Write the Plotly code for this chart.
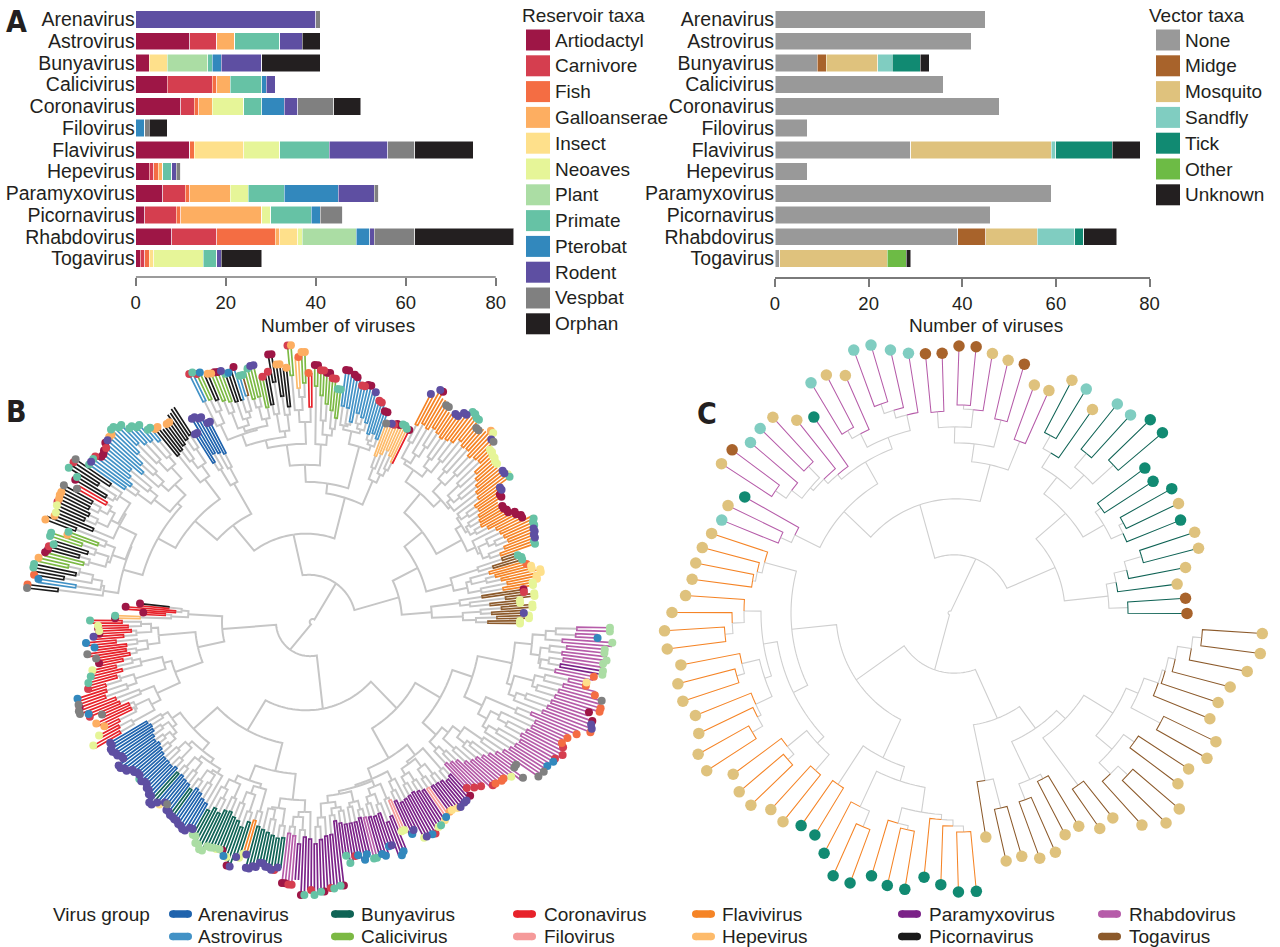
import math
import plotly.graph_objects as go

W, H = 1280, 947
INK = "#231f20"
SANS = "Liberation Sans"

# ---------- bar data ----------
viruses = ["Arenavirus", "Astrovirus", "Bunyavirus", "Calicivirus", "Coronavirus", "Filovirus",
           "Flavivirus", "Hepevirus", "Paramyxovirus", "Picornavirus", "Rhabdovirus", "Togavirus"]
artiodactyl = [0, 12, 3, 7, 10, 0, 12, 3, 6, 2, 8, 1]
carnivore = [0, 6, 0, 10, 3, 0, 0, 1, 5, 7, 10, 1]
fish = [0, 0, 0, 1, 1, 0, 1, 1, 1, 1, 13, 1]
galloanserae = [0, 4, 0, 3, 3, 0, 0, 1, 9, 18, 1, 0]
insect = [0, 0, 4, 0, 0, 0, 11, 0, 0, 0, 4, 1]
neoaves = [0, 0, 0, 0, 7, 0, 8, 0, 4, 2, 1, 11]
plant = [0, 0, 9, 0, 0, 0, 0, 0, 0, 0, 12, 0]
primate = [0, 10, 1, 7, 4, 0, 11, 2, 8, 9, 0, 3]
pterobat = [0, 0, 2, 1, 5, 2, 0, 0, 12, 2, 3, 0]
rodent = [40, 5, 9, 2, 3, 0, 13, 1, 8, 0, 1, 1]
vespbat = [1, 0, 0, 0, 8, 1, 6, 1, 1, 5, 9, 0]
orphan = [0, 4, 13, 0, 6, 4, 13, 0, 0, 0, 22, 9]

none_v = [45, 42, 9, 36, 48, 7, 29, 7, 59, 46, 39, 1]
midge = [0, 0, 2, 0, 0, 0, 0, 0, 0, 0, 6, 0]
mosquito = [0, 0, 11, 0, 0, 0, 30, 0, 0, 0, 11, 23]
sandfly = [0, 0, 3, 0, 0, 0, 1, 0, 0, 0, 8, 0]
tick = [0, 0, 6, 0, 0, 0, 12, 0, 0, 0, 2, 0]
other = [0, 0, 0, 0, 0, 0, 0, 0, 0, 0, 0, 4]
unknown = [0, 0, 2, 0, 0, 0, 6, 0, 0, 0, 7, 1]

reservoir_series = [("Artiodactyl", artiodactyl, "#9e1646"), ("Carnivore", carnivore, "#d53e4f"),
                    ("Fish", fish, "#f46d43"), ("Galloanserae", galloanserae, "#fdae61"),
                    ("Insect", insect, "#fee08b"), ("Neoaves", neoaves, "#e6f598"),
                    ("Plant", plant, "#abdda4"), ("Primate", primate, "#66c2a5"),
                    ("Pterobat", pterobat, "#3288bd"), ("Rodent", rodent, "#5e4fa2"),
                    ("Vespbat", vespbat, "#808080"), ("Orphan", orphan, INK)]
vector_series = [("None", none_v, "#999999"), ("Midge", midge, "#a8632b"), ("Mosquito", mosquito, "#dfc27d"),
                 ("Sandfly", sandfly, "#80cdc1"), ("Tick", tick, "#118a72"), ("Other", other, "#6dbb45"),
                 ("Unknown", unknown, INK)]
group_names = [("Arenavirus", "A", "#1f63ad"), ("Astrovirus", "S", "#4292c6"), ("Bunyavirus", "B", "#0f6355"),
               ("Calicivirus", "K", "#7cb944"), ("Coronavirus", "C", "#e7222a"), ("Filovirus", "L", "#f59a9a"),
               ("Flavivirus", "F", "#f58426"), ("Hepevirus", "H", "#fdbb6b"), ("Paramyxovirus", "P", "#7b2288"),
               ("Picornavirus", "N", "#1a1a1a"), ("Rhabdovirus", "R", "#b65ca9"), ("Togavirus", "T", "#8c5a2b")]
GROUP_COLOR = {c: col for _, c, col in group_names}
RES_COLOR = dict(zip("acfginpmbrvo", [s[2] for s in reservoir_series]))
VEC_COLOR = {"M": "#a8632b", "Q": "#dfc27d", "S": "#80cdc1", "T": "#118a72"}

# ---------- tree C: one entry per tip, counter-clockwise; merge = radius where neighbours join ----------
c_tip_r = [231, 230, 223, 234, 251, 252, 243, 248, 249, 237, 238, 274, 274, 264, 264, 245, 259, 260,
           241, 241, 258, 258, 262, 267, 267, 260, 261, 264, 271, 281, 282, 262, 271, 272, 242, 250, 268, 269, 267, 277, 278, 241, 252, 252,
           257, 262, 265, 266, 271, 284, 292, 291, 280, 287, 287, 280, 284, 294, 295, 275, 281, 281, 270, 271,
           263, 263, 274, 290, 290, 276, 281, 281, 266, 272, 279, 279,
           226, 253, 252, 259, 259, 247, 246, 259, 258, 282, 297, 297, 280, 280, 290, 290, 275, 277, 284, 297, 307, 307]
c_merge = [172, 153, 163, 176, 194, 109, 185, 190, 172, 179, 148, 216, 188, 206, 169, 186, 201, 58,
           183, 152, 198, 170, 204, 208, 186, 202, 114, 204, 212, 222, 188, 203, 212, 176, 182, 188, 208, 192, 205, 218, 151, 179, 191, 2,
           198, 203, 206, 165, 212, 224, 232, 195, 220, 228, 202, 220, 224, 236, 181, 215, 223, 190, 211, 120,
           208, 162, 216, 233, 177, 218, 222, 202, 207, 213, 219, 60,
           170, 200, 113, 199, 182, 187, 140, 211, 152, 223, 236, 207, 220, 186, 232, 199, 214, 217, 224, 238, 247]
c_groups = "B" * 18 + "R" * 26 + "F" * 32 + "T" * 22
c_vectors = "MMQQQQTQTTTTTSSQSQ" + "QQMQQMMMMSSSSQQSTQQSSMQTQS" + "Q" * 20 + "T" * 12 + "Q" * 22

# ---------- tree B: one entry per cherry, one inner list per clade run, counter-clockwise ----------
b_out = [[214, 223, 218, 227, 215, 230, 220],
         [230, 235, 240, 232, 228],
         [225, 222],
         [242, 244, 246, 248, 250, 240, 236, 230, 228, 226, 232, 236, 250, 248, 246, 248, 250, 252, 260, 266, 262, 258, 266, 268, 262, 256, 254, 258, 262, 268, 260],
         [218, 220, 218, 216, 214],
         [225, 232, 233, 240, 245, 243, 250, 252, 255],
         [235, 245, 250, 252, 257],
         [249, 270, 265, 277, 255, 259, 270, 253, 249, 262, 260, 255, 265, 261, 265, 266, 267, 271, 274],
         [222, 230, 233, 218],
         [252, 249, 242, 240, 245],
         [249, 258, 262, 270, 274, 270, 269, 265, 263, 268, 268],
         [282, 283, 271, 265, 278, 277, 276, 275, 273, 280, 254, 270, 264, 268, 270, 275, 278, 276, 271, 281],
         [167, 181, 163, 191, 216, 208, 207, 213, 221, 213, 221, 213, 211, 219, 222, 226, 228, 241, 242, 244, 236, 224, 233, 227, 236, 246],
         [230, 233, 231, 228, 236, 233, 228, 226, 229, 227, 230, 233, 239, 234, 229, 234, 236, 237, 239, 241, 236],
         [241, 247, 251, 245, 244, 243, 248, 256, 245, 240, 253, 250, 245, 248, 250, 247],
         [262, 263, 258, 273, 268, 273, 270, 267, 268, 266, 237, 245, 239, 245, 240, 246, 244, 247, 239, 252, 249, 230, 237, 234, 246, 247, 248, 244, 242, 240, 238, 240, 241, 240, 239],
         [231, 236, 240, 248, 249, 252, 257, 267, 254, 279, 281, 281, 284, 289, 286, 283, 286, 293, 305, 303, 297, 307, 306, 298, 287, 293, 301, 300, 303, 300, 307, 292, 304]]
b_hinge = [[182, 191, 186, 196, 185, 201, 178],
           [200, 205, 200, 195, 190],
           [195, 206],
           [206, 212, 218, 216, 214, 212, 205, 200, 201, 203, 206, 205, 212, 214, 218, 222, 226, 236, 235, 232, 236, 235, 238, 232, 230, 228, 230, 232, 228, 230, 226],
           [181, 186, 190, 184, 180],
           [196, 200, 198, 208, 212, 215, 205, 218, 219],
           [206, 213, 219, 227, 236],
           [215, 239, 234, 247, 216, 227, 242, 220, 218, 230, 229, 234, 231, 231, 233, 236, 239, 242, 243],
           [187, 190, 192, 184],
           [220, 218, 215, 212, 210],
           [233, 238, 240, 245, 238, 228, 221, 232, 228, 222, 225],
           [239, 249, 236, 232, 245, 245, 242, 244, 232, 248, 222, 237, 229, 236, 230, 244, 235, 246, 233, 250],
           [138, 131, 141, 166, 184, 178, 175, 183, 191, 181, 182, 179, 187, 195, 190, 197, 210, 211, 214, 205, 203, 195, 195, 211, 214, 216],
           [188, 186, 187, 190, 192, 190, 192, 194, 196, 196, 197, 195, 198, 197, 199, 200, 203, 199, 201, 205, 207],
           [212, 207, 210, 205, 204, 208, 210, 215, 208, 205, 210, 212, 214, 216, 218, 217],
           [212, 214, 222, 215, 217, 222, 218, 215, 214, 201, 204, 206, 206, 206, 203, 204, 205, 206, 205, 216, 212, 197, 200, 204, 203, 202, 201, 203, 205, 206, 207, 208, 209, 212, 210],
           [199, 202, 205, 212, 216, 218, 222, 226, 231, 236, 240, 243, 245, 243, 246, 249, 250, 243, 253, 256, 258, 260, 262, 265, 269, 254, 258, 260, 258, 262, 257, 270, 271]]
b_join = [[170, 157, 175, 126, 165, 155, 96],
          [178, 165, 185, 170, 151],
          [180, 124],
          [195, 188, 205, 198, 185, 176, 192, 186, 190, 183, 194, 186, 147, 185, 198, 190, 205, 182, 210, 195, 205, 172, 210, 195, 205, 186, 212, 200, 190, 208, 47],
          [172, 165, 156, 168, 130],
          [188, 192, 183, 200, 205, 196, 208, 200, 140],
          [195, 188, 202, 178, 157],
          [200, 225, 212, 178, 208, 192, 210, 186, 207, 220, 200, 218, 212, 205, 222, 198, 228, 215, 88],
          [172, 156, 175, 121],
          [205, 188, 198, 175, 150],
          [215, 205, 218, 190, 212, 200, 175, 205, 195, 212, 170],
          [225, 228, 212, 226, 235, 220, 232, 210, 191, 215, 205, 222, 208, 225, 190, 232, 218, 208, 205, 3],
          [125, 118, 135, 84, 165, 155, 170, 148, 170, 160, 172, 111, 178, 170, 148, 195, 180, 190, 140, 180, 165, 190, 195, 175, 200, 34],
          [172, 165, 178, 170, 182, 175, 183, 155, 180, 170, 185, 165, 188, 175, 186, 170, 190, 178, 188, 175, 123],
          [185, 195, 175, 190, 168, 192, 180, 198, 172, 195, 152, 190, 200, 188, 205, 178],
          [205, 195, 208, 190, 88, 205, 196, 182, 195, 188, 192, 175, 190, 186, 195, 172, 192, 185, 196, 178, 198, 170, 190, 180, 159, 190, 182, 192, 175, 195, 185, 198, 172, 200, 125],
          [182, 190, 172, 195, 180, 200, 205, 190, 212, 154, 210, 220, 205, 225, 215, 195, 228, 175, 222, 232, 215, 240, 235, 245, 210, 238, 246, 236, 245, 227, 240, 250, 0]]
b_groups = ["T" * 14, "F" * 10, "T" * 4, "F" * 62, "C" + "H" * 9, "S" * 18, "K" * 10,
            "CCKKHHKKNNNNNNNNKKKKKKTSSNNNKKKKNNKKSS", "A" * 8, "N" * 10, "S" * 22,
            "N" * 6 + "CC" + "N" * 12 + "KKKK" + "NNNN" + "KKKK" + "NNNN" + "SS" + "NN",
            "NC" + "CCCC" + "HH" + "C" * 44,
            "A" * 24 + "BB" + "A" * 6 + "BB" + "A" * 8,
            "B" * 18 + "FF" + "B" * 12,
            "RRRR" + "P" * 26 + "RR" + "P" * 10 + "LL" + "P" * 14 + "LL" + "P" * 10,
            "R" * 52 + "PP" + "R" * 12]
b_reservoirs = ["nnnnr.nnnnnnca", "nniiiiiif.", "mmm.",
                "mmrrrrmmm.aaaaaaaa..aarrmnrr..nnnnnnvrng..vvmmmmrrrr..vv..ar.r",
                "ammmaacr.v", "aa.cc.r.aacc.aa.aa", "mmccaaccaa",
                ".fggf.gcg.ggaac.c.rrm.mma.bmraagg.bcmc", "rrrrrrrr", "....gg..gg",
                "mmmmmmmmmmggracaaacmrm",
                "vc.mma.vv.gggcn.ng.gmgmm.mcaa.g.mm.fb.fv",
                "a.a.a.mam.nanar.b.b.v.v.a.n.m.m.c.b.vavvbcv.g.g.n.n.",
                "rrrrrrrrrrrrrrrrmrrrrrrrrrrirvrrrrrrrrrrrr",
                "pppppppppnpabnarrnnrrrrrrrrrrcr.",
                "aacc..am.cm.ma.cm.ma.mm.cb.bb.mm.bb.br.bb.nn.br.nr.bc.nm.ib.gi.ir.rr.am",
                "c.c.c..cf.ff.n.vvvv.v.b.bc.c.cf.f.f.frra.aff.vf.fi.fpp.pp.pp.pb.pp."]


def px_x(x):
    return x / W


def px_y(y):
    return 1 - y / H


def layout_tree(tip_r, merges, tip_groups, start, gray):
    """Standard circular dendrogram: tips equally spaced, each node halfway between its children."""
    n = len(tip_r)
    step = 360 / n
    tips_theta = [start + i * step for i in range(n)]
    segs = {}

    def edge(th_p, r_p, th_c, r_c, key):
        th_list, r_list = segs.setdefault(key, ([], []))
        steps = max(1, int(abs(th_c - th_p) / 1.5))
        for s in range(steps + 1):
            th_list.append(th_p + (th_c - th_p) * s / steps)
            r_list.append(r_p)
        th_list.append(th_c)
        r_list.append(r_c)
        th_list.append(None)
        r_list.append(None)

    def build(lo, hi):
        if lo == hi:
            return tips_theta[lo], tip_r[lo], tip_groups[lo]
        k = min(range(lo, hi), key=lambda j: merges[j])
        r = merges[k]
        left = build(lo, k)
        right = build(k + 1, hi)
        th = (left[0] + right[0]) / 2
        for child in (left, right):
            edge(th, r, child[0], child[1], child[2] or gray)
        return th, r, None

    build(0, n - 1)
    return tips_theta, segs


def tree_traces(tip_r, merges, tip_groups, tip_codes, colors, start, subplot, gray, gray_w, col_w, dot, recentre):
    """recentre: radii were read about a centre this many px from the polar origin along the x axis."""
    theta, segs = layout_tree(tip_r, merges, tip_groups, start, "gray")

    def adj(th, r):
        if r is None:
            return None
        return r + recentre * min(1, r / 80) * math.cos(math.radians(th))

    out = []
    for key in ["gray"] + [k for k in segs if k != "gray"]:
        if key not in segs:
            continue
        th, r = segs[key]
        is_gray = key == "gray"
        out.append(go.Scatterpolar(theta=th, r=[adj(a, b) for a, b in zip(th, r)], mode="lines", subplot=subplot,
                                   hoverinfo="skip", showlegend=False, connectgaps=False,
                                   line=dict(color=gray if is_gray else GROUP_COLOR[key],
                                             width=gray_w if is_gray else col_w)))
    for code, color in colors.items():
        idx = [i for i, c in enumerate(tip_codes) if c == code]
        out.append(go.Scatterpolar(theta=[theta[i] for i in idx], r=[adj(theta[i], tip_r[i]) for i in idx],
                                   mode="markers", subplot=subplot, hoverinfo="skip", showlegend=False,
                                   marker=dict(color=color, size=dot, line=dict(width=0))))
    return out


fig = go.Figure()

for name, vals, col in reservoir_series:
    fig.add_trace(go.Bar(y=viruses, x=vals, name=name, orientation="h", width=0.8, xaxis="x", yaxis="y",
                         showlegend=False, marker=dict(color=col, line=dict(color="white", width=0.5))))
for name, vals, col in vector_series:
    fig.add_trace(go.Bar(y=viruses, x=vals, name=name, orientation="h", width=0.8, xaxis="x2", yaxis="y2",
                         showlegend=False, marker=dict(color=col, line=dict(color="white", width=0.5))))

# assemble tree B from its runs
b_tip_r, b_merge, b_tip_group, b_tip_res = [], [], "", ""
for o, h, j, g, d in zip(b_out, b_hinge, b_join, b_groups, b_reservoirs):
    for a, b, c in zip(o, h, j):
        b_tip_r += [a, a]
        b_merge += [b, c]
    b_tip_group += g.ljust(2 * len(o), g[-1])[:2 * len(o)]
    b_tip_res += d.ljust(2 * len(o), ".")[:2 * len(o)]
b_merge = b_merge[:-1]
for i in range(1, len(b_merge), 2):  # a join always sits below the two hinges it connects
    b_merge[i] = min(b_merge[i], b_merge[i - 1] - 3, b_merge[i + 1] - 3)

for tr in tree_traces(b_tip_r, b_merge, b_tip_group, b_tip_res, RES_COLOR, -0.4, "polar", "#c6c6c6", 2, 1.7, 8, -7):
    fig.add_trace(tr)
for tr in tree_traces(c_tip_r, c_merge, c_groups, c_vectors, VEC_COLOR, -0.1, "polar2", "#cfcfcf", 1.1, 1.05, 11.5, 6):
    fig.add_trace(tr)

annotations, shapes = [], []


def label(text, x, y, size=19, anchor="left", bold=False, family=SANS):
    annotations.append(dict(text=("<b>%s</b>" % text) if bold else text, x=px_x(x), y=px_y(y), xref="paper",
                            yref="paper", xanchor=anchor, yanchor="middle", showarrow=False,
                            font=dict(family=family, size=size, color=INK)))


def swatch(x0, x1, yc, h, color):
    shapes.append(dict(type="rect", xref="paper", yref="paper", x0=px_x(x0), x1=px_x(x1), y0=px_y(yc + h / 2),
                       y1=px_y(yc - h / 2), fillcolor=color, line=dict(width=0)))


def pill(x0, x1, yc, h, color):
    shapes.append(dict(type="line", xref="paper", yref="paper", x0=px_x(x0 + h / 2), x1=px_x(x1 - h / 2),
                       y0=px_y(yc), y1=px_y(yc), line=dict(color=color, width=h)))
    for cx in (x0 + h / 2, x1 - h / 2):
        shapes.append(dict(type="circle", xref="paper", yref="paper", x0=px_x(cx - h / 2), x1=px_x(cx + h / 2),
                           y0=px_y(yc + h / 2), y1=px_y(yc - h / 2), fillcolor=color, line=dict(width=0)))


label("Reservoir taxa", 520, 15)
for i, (name, _, col) in enumerate(reservoir_series):
    swatch(526, 550, 40 + 25.8 * i, 21, col)
    label(name, 553, 40 + 25.8 * i)
label("Vector taxa", 1147, 15)
for i, (name, _, col) in enumerate(vector_series):
    swatch(1156, 1180, 40 + 25.8 * i, 21, col)
    label(name, 1183, 40 + 25.8 * i)
label("Number of viruses", 338, 325.5, anchor="center")
label("Number of viruses", 986, 325.5, anchor="center")
CONDENSED = "DejaVu Sans Condensed, Liberation Sans"
label("A", 16, 21, size=30, anchor="center", bold=True, family=CONDENSED)
label("B", 16, 412, size=30, anchor="center", bold=True, family=CONDENSED)
label("C", 707, 413, size=30, anchor="center", bold=True, family=CONDENSED)

label("Virus group", 51, 914)
legend_cols = [(169, 196), (331, 359), (513, 542), (692, 720), (898, 927), (1098, 1127)]
for i, (name, _, col) in enumerate(group_names):
    sx, tx = legend_cols[i // 2]
    yy = 914 if i % 2 == 0 else 936.5
    pill(sx, sx + 23, yy, 7.5, col)
    label(name, tx, yy)

# left axis carries bars up to 84 but its line stops at the last tick (80)
shapes.append(dict(type="line", xref="x", yref="paper", x0=0, x1=80, y0=px_y(277), y1=px_y(277),
                   line=dict(color="#7a7a7a", width=1.5)))


def xaxis(x0, x1, xmax, line):
    return dict(domain=[px_x(x0), px_x(x1)], range=[0, xmax], tickvals=[0, 20, 40, 60, 80], showgrid=False,
                zeroline=False, showline=line, linecolor="#7a7a7a", linewidth=1.5, ticks="outside", ticklen=8,
                tickwidth=1.5, tickcolor="#7a7a7a", ticklabelstandoff=1, automargin=False,
                tickfont=dict(family=SANS, size=18.5, color=INK))


def yaxis(anchor):
    return dict(domain=[px_y(277), px_y(8.6)], type="category", categoryorder="array", categoryarray=viruses,
                tickmode="array", tickvals=viruses, ticktext=viruses, automargin=False,
                range=[11.85, -0.5], showgrid=False, zeroline=False, showline=False, ticks="", anchor=anchor,
                tickfont=dict(family=SANS, size=19.5, color=INK))


def polar(cx, cy, R):
    return dict(domain=dict(x=[px_x(cx - R), px_x(cx + R)], y=[px_y(cy + R), px_y(cy - R)]),
                bgcolor="rgba(0,0,0,0)",
                radialaxis=dict(visible=False, range=[0, R]),
                angularaxis=dict(visible=False, thetaunit="degrees", direction="counterclockwise", rotation=0))


fig.update_layout(width=W, height=H, margin=dict(l=0, r=0, t=0, b=0), paper_bgcolor="white", plot_bgcolor="white",
                  barmode="stack", bargap=0.2, showlegend=False,
                  xaxis=xaxis(135.7, 513.7, 84, False), yaxis=yaxis("x"),
                  xaxis2=xaxis(775, 1149.5, 80, True), yaxis2=yaxis("x2"),
                  polar=polar(313, 622, 306), polar2=polar(950, 613, 320),
                  annotations=annotations, shapes=shapes, font=dict(family=SANS, color=INK))

fig.write_html("out.html", config={"displayModeBar": False},
               post_script="document.body.style.margin='0';document.body.style.overflow='hidden';")
